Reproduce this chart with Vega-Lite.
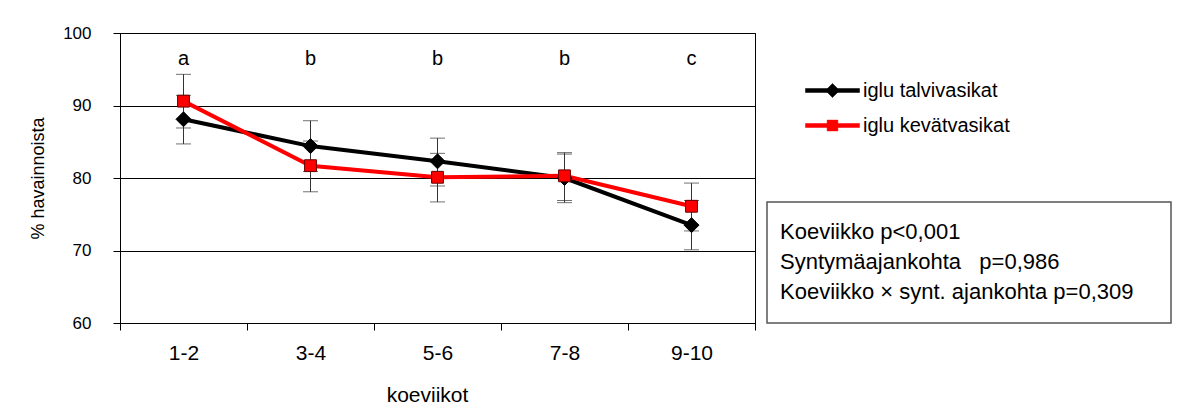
{
  "$schema": "https://vega.github.io/schema/vega-lite/v6.json",
  "background": "white",
  "padding": {"left": 29, "top": 23, "right": 0, "bottom": 0},
  "spacing": 10,
  "config": {
    "font": "Liberation Sans",
    "view": {"stroke": "black", "strokeWidth": 1},
    "axis": {"labelColor": "black", "titleColor": "black", "domainColor": "black", "tickColor": "black", "titleFontWeight": "normal", "labelFont": "Liberation Sans", "titleFont": "Liberation Sans"}
  },
  "datasets": {
    "series": [
      {"week": "1-2", "series": "iglu talvivasikat", "value": 88.1, "lo": 84.7, "hi": 91.4},
      {"week": "3-4", "series": "iglu talvivasikat", "value": 84.4, "lo": 80.9, "hi": 87.9},
      {"week": "5-6", "series": "iglu talvivasikat", "value": 82.3, "lo": 78.9, "hi": 85.5},
      {"week": "7-8", "series": "iglu talvivasikat", "value": 80.0, "lo": 76.6, "hi": 83.3},
      {"week": "9-10", "series": "iglu talvivasikat", "value": 73.5, "lo": 70.1, "hi": 76.9},
      {"week": "1-2", "series": "iglu kevätvasikat", "value": 90.6, "lo": 86.9, "hi": 94.3},
      {"week": "3-4", "series": "iglu kevätvasikat", "value": 81.7, "lo": 78.1, "hi": 85.1},
      {"week": "5-6", "series": "iglu kevätvasikat", "value": 80.1, "lo": 76.7, "hi": 83.4},
      {"week": "7-8", "series": "iglu kevätvasikat", "value": 80.3, "lo": 76.9, "hi": 83.5},
      {"week": "9-10", "series": "iglu kevätvasikat", "value": 76.1, "lo": 72.7, "hi": 79.3}
    ],
    "letters": [
      {"week": "1-2", "letter": "a"},
      {"week": "3-4", "letter": "b"},
      {"week": "5-6", "letter": "b"},
      {"week": "7-8", "letter": "b"},
      {"week": "9-10", "letter": "c"}
    ],
    "stats": [
      {"line": 1, "text": "Koeviikko p<0,001"},
      {"line": 2, "text": "Syntymäajankohta\u00a0\u00a0 p=0,986"},
      {"line": 3, "text": "Koeviikko × synt. ajankohta p=0,309"}
    ]
  },
  "hconcat": [
    {
      "width": 635,
      "height": 290,
      "data": {"name": "series"},
      "encoding": {
        "x": {
          "field": "week", "type": "ordinal",
          "sort": ["1-2", "3-4", "5-6", "7-8", "9-10"],
          "scale": {"type": "band", "paddingInner": 0, "paddingOuter": 0},
          "axis": {"title": "koeviikot", "labelAngle": 0, "tickBand": "extent", "tickSize": 7, "labelPadding": 12, "labelFontSize": 21, "titleFontSize": 21, "titlePadding": 21, "titleX": 307, "grid": false}
        }
      },
      "layer": [
        {
          "mark": {"type": "rule", "color": "#333333", "strokeWidth": 1},
          "encoding": {
            "y": {"field": "lo", "type": "quantitative", "scale": {"domain": [60, 100], "nice": false, "zero": false}, "title": "% havainnoista",
                  "axis": {"values": [60, 70, 80, 90, 100], "grid": true, "gridColor": "black", "gridOpacity": 1, "tickSize": 7, "labelPadding": 22, "labelFontSize": 17, "titleFontSize": 18, "titlePadding": 15}},
            "y2": {"field": "hi"}
          }
        },
        {
          "mark": {"type": "tick", "color": "#333333", "size": 15, "thickness": 1},
          "encoding": {"y": {"field": "lo", "type": "quantitative", "title": "% havainnoista"}}
        },
        {
          "mark": {"type": "tick", "color": "#333333", "size": 15, "thickness": 1},
          "encoding": {"y": {"field": "hi", "type": "quantitative", "title": "% havainnoista"}}
        },
        {
          "mark": {"type": "line", "strokeWidth": 4},
          "encoding": {
            "y": {"field": "value", "type": "quantitative", "title": "% havainnoista"},
            "color": {
              "field": "series", "type": "nominal",
              "scale": {"domain": ["iglu talvivasikat", "iglu kevätvasikat"], "range": ["black", "#ff0000"]},
              "legend": {
                "orient": "none", "legendX": 701, "legendY": 46, "title": null,
                "labelFontSize": 20, "labelFont": "Liberation Sans", "labelColor": "black",
                "symbolSize": 467, "labelOffset": 19, "rowPadding": 13, "padding": 0,
                "encode": {
                  "symbols": {
                    "update": {
                      "shape": {"signal": "datum.value === 'iglu talvivasikat' ? 'M-2.5,-0.185H2.5V0.185H-2.5Z M0,-0.65L0.65,0L0,0.65L-0.65,0Z' : 'M-2.5,-0.185H2.5V0.185H-2.5Z M-0.5,-0.5H0.5V0.5H-0.5Z'"},
                      "fill": {"signal": "datum.value === 'iglu talvivasikat' ? 'black' : '#ff0000'"},
                      "stroke": {"signal": "datum.value === 'iglu talvivasikat' ? 'black' : '#ff0000'"},
                      "strokeWidth": {"value": 0.5},
                      "opacity": {"value": 1},
                      "fillOpacity": {"value": 1}
                    }
                  }
                }
              }
            }
          }
        },
        {
          "transform": [{"filter": "datum.series === 'iglu talvivasikat'"}],
          "mark": {"type": "point", "shape": "diamond", "size": 225, "filled": true, "opacity": 1, "fill": "black", "stroke": "black", "strokeWidth": 1},
          "encoding": {
            "y": {"field": "value", "type": "quantitative", "title": "% havainnoista"}
          }
        },
        {
          "transform": [{"filter": "datum.series === 'iglu kevätvasikat'"}],
          "mark": {"type": "point", "shape": "square", "size": 140, "filled": true, "opacity": 1, "fill": "#ff0000", "stroke": "#660000", "strokeWidth": 1},
          "encoding": {
            "y": {"field": "value", "type": "quantitative", "title": "% havainnoista"}
          }
        },
        {
          "data": {"name": "letters"},
          "mark": {"type": "text", "fontSize": 20, "baseline": "alphabetic", "color": "black"},
          "encoding": {
            "y": {"datum": 95.6, "type": "quantitative"},
            "text": {"field": "letter"}
          }
        }
      ]
    },
    {
      "spacing": 0,
      "vconcat": [
        {
          "width": 404,
          "height": 168,
          "view": {"stroke": null},
          "data": {"values": []},
          "mark": "point"
        },
        {
          "width": 404,
          "height": 121,
          "view": {"stroke": "#555555", "strokeWidth": 1.5},
          "data": {"name": "stats"},
          "mark": {"type": "text", "align": "left", "baseline": "alphabetic", "dx": 13, "dy": 6.5, "fontSize": 22, "color": "black"},
          "encoding": {
            "x": {"datum": 0, "type": "quantitative", "scale": {"domain": [0, 1]}, "axis": null},
            "y": {"field": "line", "type": "ordinal", "sort": null, "scale": {"type": "point", "padding": 1.24}, "axis": null},
            "text": {"field": "text"}
          }
        }
      ]
    }
  ],
  "resolve": {"scale": {"y": "independent", "x": "independent"}}
}
